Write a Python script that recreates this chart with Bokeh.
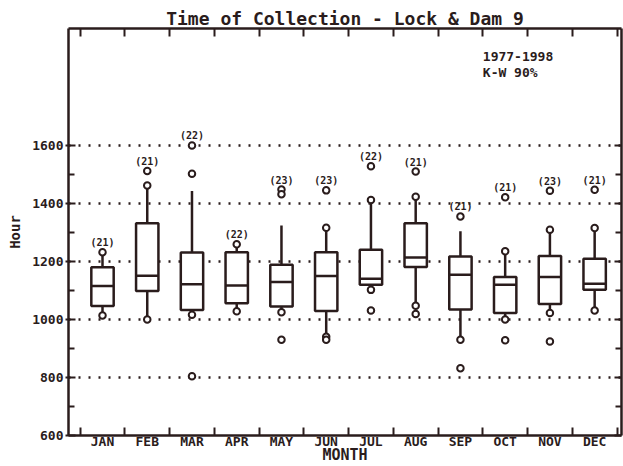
from bokeh.plotting import figure
from bokeh.models import (FixedTicker, LinearAxis, Range1d, ColumnDataSource,
                          Label)
from bokeh.core.properties import value
from bokeh.embed import file_html
from bokeh.resources import INLINE

# Monthly collection-time summaries (hour of day, e.g. 1130 = 11:30)
months = ["JAN", "FEB", "MAR", "APR", "MAY", "JUN",
          "JUL", "AUG", "SEP", "OCT", "NOV", "DEC"]
counts = [21, 21, 22, 22, 23, 23, 22, 21, 21, 21, 23, 21]
q1 = [1046, 1098, 1033, 1056, 1045, 1029, 1120, 1181, 1034, 1022, 1053, 1102]
median = [1115, 1151, 1121, 1117, 1129, 1150, 1140, 1214, 1154, 1120, 1146, 1123]
q3 = [1180, 1332, 1231, 1232, 1189, 1232, 1240, 1332, 1217, 1146, 1219, 1209]
whisker_lo = [1014, 1000, 1016, 1028, 1025, 940, 1102, 1047, 930, 1000, 1022, 1031]
whisker_hi = [1232, 1462, 1443, 1259, 1324, 1316, 1412, 1423, 1304, 1235, 1309, 1315]

# Individual points plotted as circles (month number, hour)
point_month = [1, 1,
               2, 2, 2,
               3, 3, 3, 3,
               4, 4,
               5, 5, 5, 5,
               6, 6, 6, 6,
               7, 7, 7, 7,
               8, 8, 8, 8,
               9, 9, 9,
               10, 10, 10, 10,
               11, 11, 11, 11,
               12, 12, 12]
point_hour = [1232, 1014,
              1462, 1512, 1000,
              1502, 1600, 1016, 804,
              1259, 1028,
              1448, 1432, 1025, 930,
              1316, 1445, 940, 930,
              1412, 1528, 1102, 1031,
              1423, 1510, 1047, 1019,
              1355, 930, 832,
              1235, 1421, 1000, 928,
              1309, 1444, 1022, 924,
              1315, 1447, 1031]

INK = "#2a1c1c"
FONT = "DejaVu Sans Mono"

xs = list(range(1, len(months) + 1))
half = 0.25
x_lo, x_hi = 0.24, 12.6
y_lo, y_hi = 600, 2003

p = figure(width=623, height=466, output_backend="svg", toolbar_location=None,
           x_range=Range1d(x_lo, x_hi), y_range=Range1d(y_lo, y_hi),
           min_border_left=68, min_border_right=2, min_border_top=28,
           min_border_bottom=31, background_fill_color="white",
           border_fill_color="white", outline_line_color=None)

p.title.text = "Time of Collection - Lock & Dam 9"
p.title.align = "center"
p.title.text_font = FONT
p.title.text_font_size = "18px"
p.title.text_font_style = "bold"
p.title.text_color = INK
p.title.standoff = 0
p.title.offset = 0

month_ticks = FixedTicker(ticks=xs, minor_ticks=[x - 0.5 for x in xs] + [12.5])
hour_ticks = FixedTicker(ticks=[600, 800, 1000, 1200, 1400, 1600],
                         minor_ticks=[700, 900, 1100, 1300, 1500])


def style_axis(ax):
    ax.axis_line_color = INK
    ax.axis_line_width = 2.5
    ax.major_tick_line_color = INK
    ax.major_tick_line_width = 2
    ax.minor_tick_line_color = INK
    ax.minor_tick_line_width = 2
    ax.major_label_text_font = FONT
    ax.major_label_text_font_style = "bold"
    ax.major_label_text_color = INK
    ax.axis_label_text_font = FONT
    ax.axis_label_text_font_style = "bold"
    ax.axis_label_text_color = INK


# bottom: month names, boundary ticks pointing up, tightly stacked title
xb = p.xaxis[0]
xb.ticker = month_ticks
xb.major_label_overrides = {x: m for x, m in zip(xs, months)}
style_axis(xb)
xb.major_tick_in = 0
xb.major_tick_out = 0
xb.minor_tick_in = 8
xb.minor_tick_out = 0
xb.major_label_standoff = -2
xb.major_label_text_font_size = "13px"
xb.axis_label = "MONTH"
xb.axis_label_text_font_size = "15px"
xb.axis_label_standoff = -6

# left: hour labels
yl = p.yaxis[0]
yl.ticker = hour_ticks
style_axis(yl)
yl.major_tick_in = 7
yl.major_tick_out = 3
yl.minor_tick_in = 6
yl.minor_tick_out = 0
yl.major_label_standoff = 2
yl.major_label_text_font_size = "13px"
yl.axis_label = "Hour"
yl.axis_label_text_font_size = "14px"
yl.axis_label_standoff = 6


def frame_edge(ax):
    # plain frame edge: inward ticks, no labels
    style_axis(ax)
    ax.major_tick_out = 0
    ax.minor_tick_out = 0
    ax.major_label_text_color = None
    ax.major_label_text_font_size = "0px"
    ax.major_label_standoff = 0


xt = LinearAxis(ticker=month_ticks)
frame_edge(xt)
xt.major_tick_in = 0
xt.minor_tick_in = 8
p.add_layout(xt, "above")

yr = LinearAxis(ticker=hour_ticks)
frame_edge(yr)
yr.major_tick_in = 7
yr.minor_tick_in = 6
p.add_layout(yr, "right")

p.xgrid.visible = False
p.ygrid.ticker = FixedTicker(ticks=[800, 1000, 1200, 1400, 1600])
p.ygrid.grid_line_color = INK
p.ygrid.grid_line_width = 2.5
p.ygrid.grid_line_dash = "2 8"

# boxes, medians, whiskers
box = ColumnDataSource(dict(
    x=xs, left=[x - half for x in xs], right=[x + half for x in xs],
    q1=q1, q3=q3, med=median, lo=whisker_lo, hi=whisker_hi))

p.segment(x0="x", y0="q3", x1="x", y1="hi", source=box,
          line_color=INK, line_width=2.5)
p.segment(x0="x", y0="q1", x1="x", y1="lo", source=box,
          line_color=INK, line_width=2.5)
p.quad(left="left", right="right", bottom="q1", top="q3", source=box,
       fill_color="white", line_color=INK, line_width=2.5)
p.segment(x0="left", y0="med", x1="right", y1="med", source=box,
          line_color=INK, line_width=2.5)

p.scatter(x=point_month, y=point_hour, marker="circle", size=6.5,
          fill_color="white", line_color=INK, line_width=2)

# sample counts above each month's highest value
top = [max([h for m, h in zip(point_month, point_hour) if m == x] + [whisker_hi[i]])
       for i, x in enumerate(xs)]
p.text(x=xs, y=top, text=[f"({n})" for n in counts], text_align="center",
       text_baseline="bottom", y_offset=-4, text_font=value(FONT),
       text_font_size="10px", text_font_style="bold", text_color=INK)

for txt, yv in [("1977-1998", 1908), ("K-W 90%", 1853)]:
    p.add_layout(Label(x=9.5, y=yv, text=txt, text_font=FONT,
                       text_font_size="13px", text_font_style="bold",
                       text_color=INK, text_baseline="middle"))

open("out.html", "w").write(file_html(p, INLINE))
